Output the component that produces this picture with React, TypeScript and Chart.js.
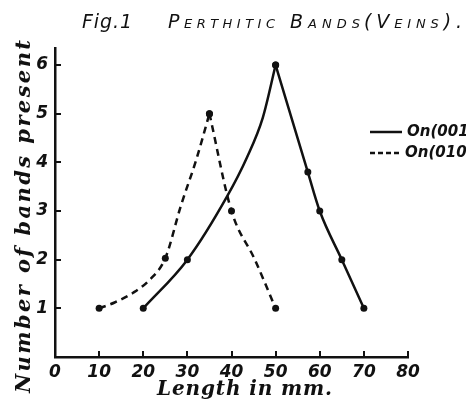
import { useEffect, useRef } from "react";
import { Chart, registerables } from "chart.js";

Chart.register(...registerables);

// ---- data ----
const TITLE_FIG = "Fig.1";
const TITLE_WORDS = ["Perthitic", "Bands", "(Veins)."];
const X_TITLE = "Length in mm.";
const Y_TITLE = "Number of bands present";
const X_TICKS = [0, 10, 20, 30, 40, 50, 60, 70, 80];
const Y_TICKS = [1, 2, 3, 4, 5, 6];
const LEGEND_SOLID = "On(001)";
const LEGEND_DASHED = "On(010)";

// On (001) – solid, rising branch then falling branch (markers only on observed points)
const len001Rise = [20, 30, 39, 43.5, 47.1, 50];
const bands001Rise = [1, 2, 3.3, 4.1, 4.92, 6];
const mark001Rise = [1, 1, 0, 0, 0, 1];
const len001Fall = [50, 57.3, 60, 65, 70];
const bands001Fall = [6, 3.8, 3, 2, 1];
const mark001Fall = [1, 1, 1, 1, 1];

// On (010) – dashed
const len010Rise = [10, 13.5, 17.7, 21.5, 25, 28.5, 32, 35];
const bands010Rise = [1, 1.12, 1.32, 1.59, 2.03, 3.1, 4.05, 5];
const mark010Rise = [1, 0, 0, 0, 1, 0, 0, 1];
const len010Fall = [35, 40, 45.3, 50];
const bands010Fall = [5, 3, 2, 1];
const mark010Fall = [1, 1, 0, 1];

const INK = "#111";
const DASH = [7, 5];

function pts(xs: number[], ys: number[]) {
  return xs.map((x, i) => ({ x, y: ys[i] }));
}

function branch(xs: number[], ys: number[], marks: number[], dashed: boolean) {
  return {
    data: pts(xs, ys),
    borderColor: INK,
    backgroundColor: INK,
    borderWidth: 2.5,
    borderDash: dashed ? DASH : [],
    cubicInterpolationMode: "monotone",
    pointRadius: marks.map((m) => (m ? 3.5 : 0)),
    pointBorderWidth: 0,
    pointBackgroundColor: INK,
    fill: false,
  };
}

function fitText(ctx: CanvasRenderingContext2D, text: string, x: number, y: number, width: number) {
  const n = [...text].length;
  const w = ctx.measureText(text).width;
  const sp = n > 1 ? (width - w) / (n - 1) : 0;
  let cx = x;
  for (const ch of text) {
    ctx.fillText(ch, cx, y);
    cx += ctx.measureText(ch).width + sp;
  }
}

function drawSmallCapsWord(
  ctx: CanvasRenderingContext2D,
  text: string,
  x: number,
  y: number,
  width: number,
  big: number,
  small: number,
  family: string
) {
  const parts = [...text].map((ch) => {
    const lower = /[a-z]/.test(ch);
    return { ch: lower ? ch.toUpperCase() : ch, size: lower ? small : big };
  });
  let natural = 0;
  for (const p of parts) {
    ctx.font = `italic ${p.size}px ${family}`;
    natural += ctx.measureText(p.ch).width;
  }
  const sp = parts.length > 1 ? (width - natural) / (parts.length - 1) : 0;
  let cx = x;
  for (const p of parts) {
    ctx.font = `italic ${p.size}px ${family}`;
    ctx.fillText(p.ch, cx, y);
    cx += ctx.measureText(p.ch).width + sp;
  }
}

const extras = {
  id: "extras",
  afterDraw(chart: any) {
    const { ctx, chartArea } = chart;
    const xs = chart.scales.x;
    const ys = chart.scales.y;
    ctx.save();
    ctx.fillStyle = INK;
    ctx.strokeStyle = INK;
    ctx.lineWidth = 2;
    ctx.setLineDash([]);
    // inward tick marks
    ctx.beginPath();
    for (const v of X_TICKS) {
      if (v === 0) continue;
      const px = Math.round(xs.getPixelForValue(v));
      ctx.moveTo(px, chartArea.bottom);
      ctx.lineTo(px, chartArea.bottom - 6);
    }
    for (const v of Y_TICKS) {
      const py = Math.round(ys.getPixelForValue(v));
      ctx.moveTo(chartArea.left, py);
      ctx.lineTo(chartArea.left + 6, py);
    }
    ctx.stroke();

    // title
    ctx.textBaseline = "alphabetic";
    ctx.textAlign = "left";
    ctx.font = 'italic 19px "DejaVu Sans"';
    fitText(ctx, TITLE_FIG, 82, 28, 50);
    const fam = '"DejaVu Sans"';
    drawSmallCapsWord(ctx, TITLE_WORDS[0], 168, 28, 107, 19, 13, fam);
    drawSmallCapsWord(ctx, TITLE_WORDS[1], 290, 28, 70, 19, 13, fam);
    drawSmallCapsWord(ctx, TITLE_WORDS[2], 364, 28, 98, 19, 13, fam);

    // x axis title
    ctx.font = 'italic bold 20px "DejaVu Serif"';
    fitText(ctx, X_TITLE, 157, 395, 175);

    // y axis title (rotated)
    ctx.save();
    ctx.translate(30, 393);
    ctx.rotate(-Math.PI / 2);
    ctx.font = 'italic bold 21px "DejaVu Serif"';
    fitText(ctx, Y_TITLE, 0, 0, 353);
    ctx.restore();

    // legend
    const lx0 = 370;
    const lx1 = 402;
    ctx.lineWidth = 2.5;
    ctx.beginPath();
    ctx.moveTo(lx0, 132);
    ctx.lineTo(lx1, 132);
    ctx.stroke();
    ctx.setLineDash([5, 3]);
    ctx.beginPath();
    ctx.moveTo(lx0, 153);
    ctx.lineTo(lx1, 153);
    ctx.stroke();
    ctx.setLineDash([]);
    ctx.font = 'italic bold 15px "DejaVu Sans"';
    ctx.textBaseline = "middle";
    ctx.fillText(LEGEND_SOLID, 407, 132);
    ctx.fillText(LEGEND_DASHED, 405, 153);
    ctx.restore();
  },
};

export default function App() {
  const ref = useRef<HTMLCanvasElement | null>(null);
  useEffect(() => {
    if (!ref.current) return;
    const tickFont = { family: '"DejaVu Sans"', size: 17, style: "italic" as const, weight: "bold" as const };
    const chart = new Chart(ref.current, {
      type: "line",
      data: {
        datasets: [
          branch(len001Rise, bands001Rise, mark001Rise, false),
          branch(len001Fall, bands001Fall, mark001Fall, false),
          branch(len010Rise, bands010Rise, mark010Rise, true),
          branch(len010Fall, bands010Fall, mark010Fall, true),
        ] as any,
      },
      options: {
        responsive: false,
        animation: false,
        devicePixelRatio: 1,
        layout: { padding: { top: 48, right: 58, left: 0, bottom: 0 } },
        plugins: { legend: { display: false }, title: { display: false }, tooltip: { enabled: false } },
        scales: {
          x: {
            type: "linear",
            min: 0,
            max: 80,
            afterBuildTicks: (s: any) => {
              s.ticks = X_TICKS.map((v) => ({ value: v }));
            },
            afterFit: (s: any) => {
              s.height = 46;
            },
            grid: { display: false, drawTicks: false },
            border: { display: true, color: INK, width: 2.5 },
            ticks: { color: INK, font: tickFont, padding: 5, maxRotation: 0, autoSkip: false },
          },
          y: {
            type: "linear",
            min: 0,
            max: 6.35,
            afterBuildTicks: (s: any) => {
              s.ticks = Y_TICKS.map((v) => ({ value: v }));
            },
            afterFit: (s: any) => {
              s.width = 55;
            },
            grid: { display: false, drawTicks: false },
            border: { display: true, color: INK, width: 2.5 },
            ticks: { color: INK, font: tickFont, padding: 7, autoSkip: false },
          },
        },
      } as any,
      plugins: [extras],
    });
    return () => chart.destroy();
  }, []);
  return (
    <div style={{ position: "fixed", left: 0, top: 0, width: 466, height: 403, background: "#fff" }}>
      <canvas ref={ref} width={466} height={403} style={{ display: "block" }} />
    </div>
  );
}
